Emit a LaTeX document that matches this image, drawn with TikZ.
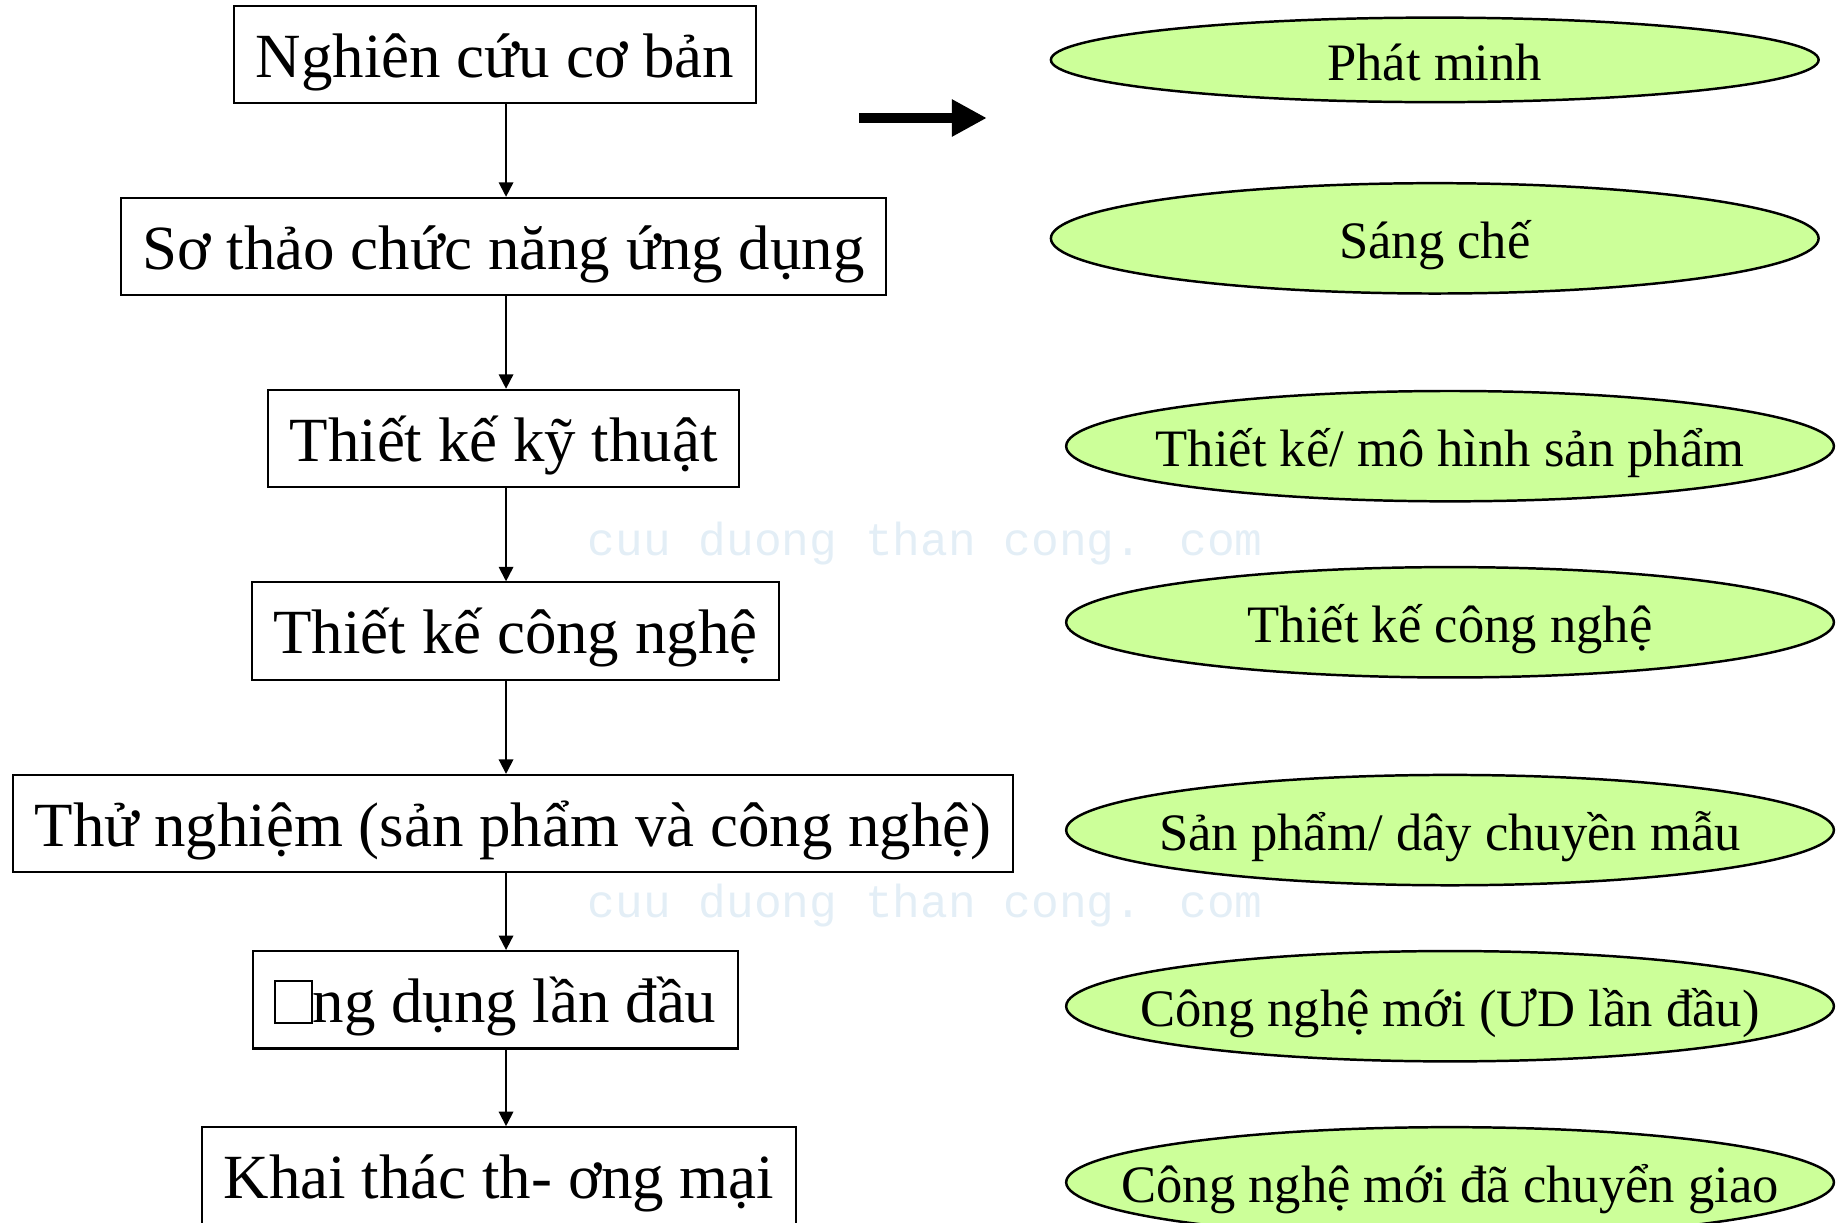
\documentclass[tikz,border=0pt]{standalone}
\usepackage{fontspec}
\setmainfont{Liberation Serif}
\newfontfamily\wmfont{Liberation Mono}
\usetikzlibrary{positioning,arrows.meta,shapes.geometric}
\definecolor{leaf}{HTML}{CCFF99}
\definecolor{wmark}{HTML}{E3EEF6}
\tikzset{
  stage/.style={draw,line width=1pt,minimum height=1.66cm,inner xsep=0.37cm,inner ysep=0pt,
    text height=27pt,text depth=5pt,font=\fontsize{30.5}{36}\selectfont},
  result/.style={ellipse,draw,fill=leaf,line width=1.2pt,minimum width=13.08cm,
    minimum height=1.88cm,inner sep=0pt,text height=24pt,text depth=4pt,
    font=\fontsize{25.5}{30}\selectfont,
    execute at begin node={\hbox to 0pt\bgroup\hss},
    execute at end node={\hss\egroup}},
  flow/.style={-{Triangle[length=7pt,width=7pt]},line width=0.9pt},
  wm/.style={text=wmark,font=\wmfont\fontsize{22.4}{26}\selectfont}
}
% empty box where the glyph is missing
\newcommand{\nogl}{{\setlength{\fboxsep}{0pt}\setlength{\fboxrule}{0.9pt}%
  \fbox{\rule{0pt}{0.65em}\hspace{0.55em}}}}

\begin{document}
\begin{tikzpicture}[x=0.02cm,y=-0.02cm]
  \useasboundingbox (0,0) rectangle (1568,1041);
  \clip (0,0) rectangle (1568,1041);
  % watermark
  \node[wm] (wm1) at (788,463) {cuu duong than cong. com};
  \node[wm] (wm2) at (788,771) {cuu duong than cong. com};
  % stages
  \node[stage] (b1) at (421.5,46.5) {Nghiên cứu cơ bản};
  \node[stage] (b2) at (429,210) {Sơ thảo chức năng ứng dụng};
  \node[stage] (b3) at (429,373.5) {Thiết kế kỹ thuật};
  \node[stage] (b4) at (439,537.5) {Thiết kế công nghệ};
  \node[stage] (b5) at (437,701.5) {Thử nghiệm (sản phẩm và công nghệ)};
  \node[stage] (b6) at (422,851.5) {\nogl ng dụng lần đầu};
  \node[stage] (b7) at (425,1001.5) {Khai thác th- ơng mại};
  \coordinate (spine) at (431,0);
  \foreach \a/\b in {b1/b2,b2/b3,b3/b4,b4/b5,b5/b6,b6/b7}
    \draw[flow] (\a.south -| spine) -- (\b.north -| spine);
  % results
  \node[result,minimum height=1.44cm] (e1) at (1222,51) {Phát minh};
  \node[result] (e2) at (1222,203) {Sáng chế};
  \node[result] (e3) at (1235,380) {Thiết kế/ mô hình sản phẩm};
  \node[result] (e4) at (1235,530) {Thiết kế công nghệ};
  \node[result] (e5) at (1235,707) {Sản phẩm/ dây chuyền mẫu};
  \node[result] (e6) at (1235,857) {Công nghệ mới (ƯD lần đầu)};
  \node[result] (e7) at (1235,1007) {Công nghệ mới đã chuyển giao};
  % big arrow
  \coordinate (bigtail) at (732,100.5);
  \coordinate (bighead) at (840.5,100.5);
  \draw[-{Triangle[length=17pt,width=17pt]},line width=5.2pt] (bigtail) -- (bighead);
\end{tikzpicture}
\end{document}
